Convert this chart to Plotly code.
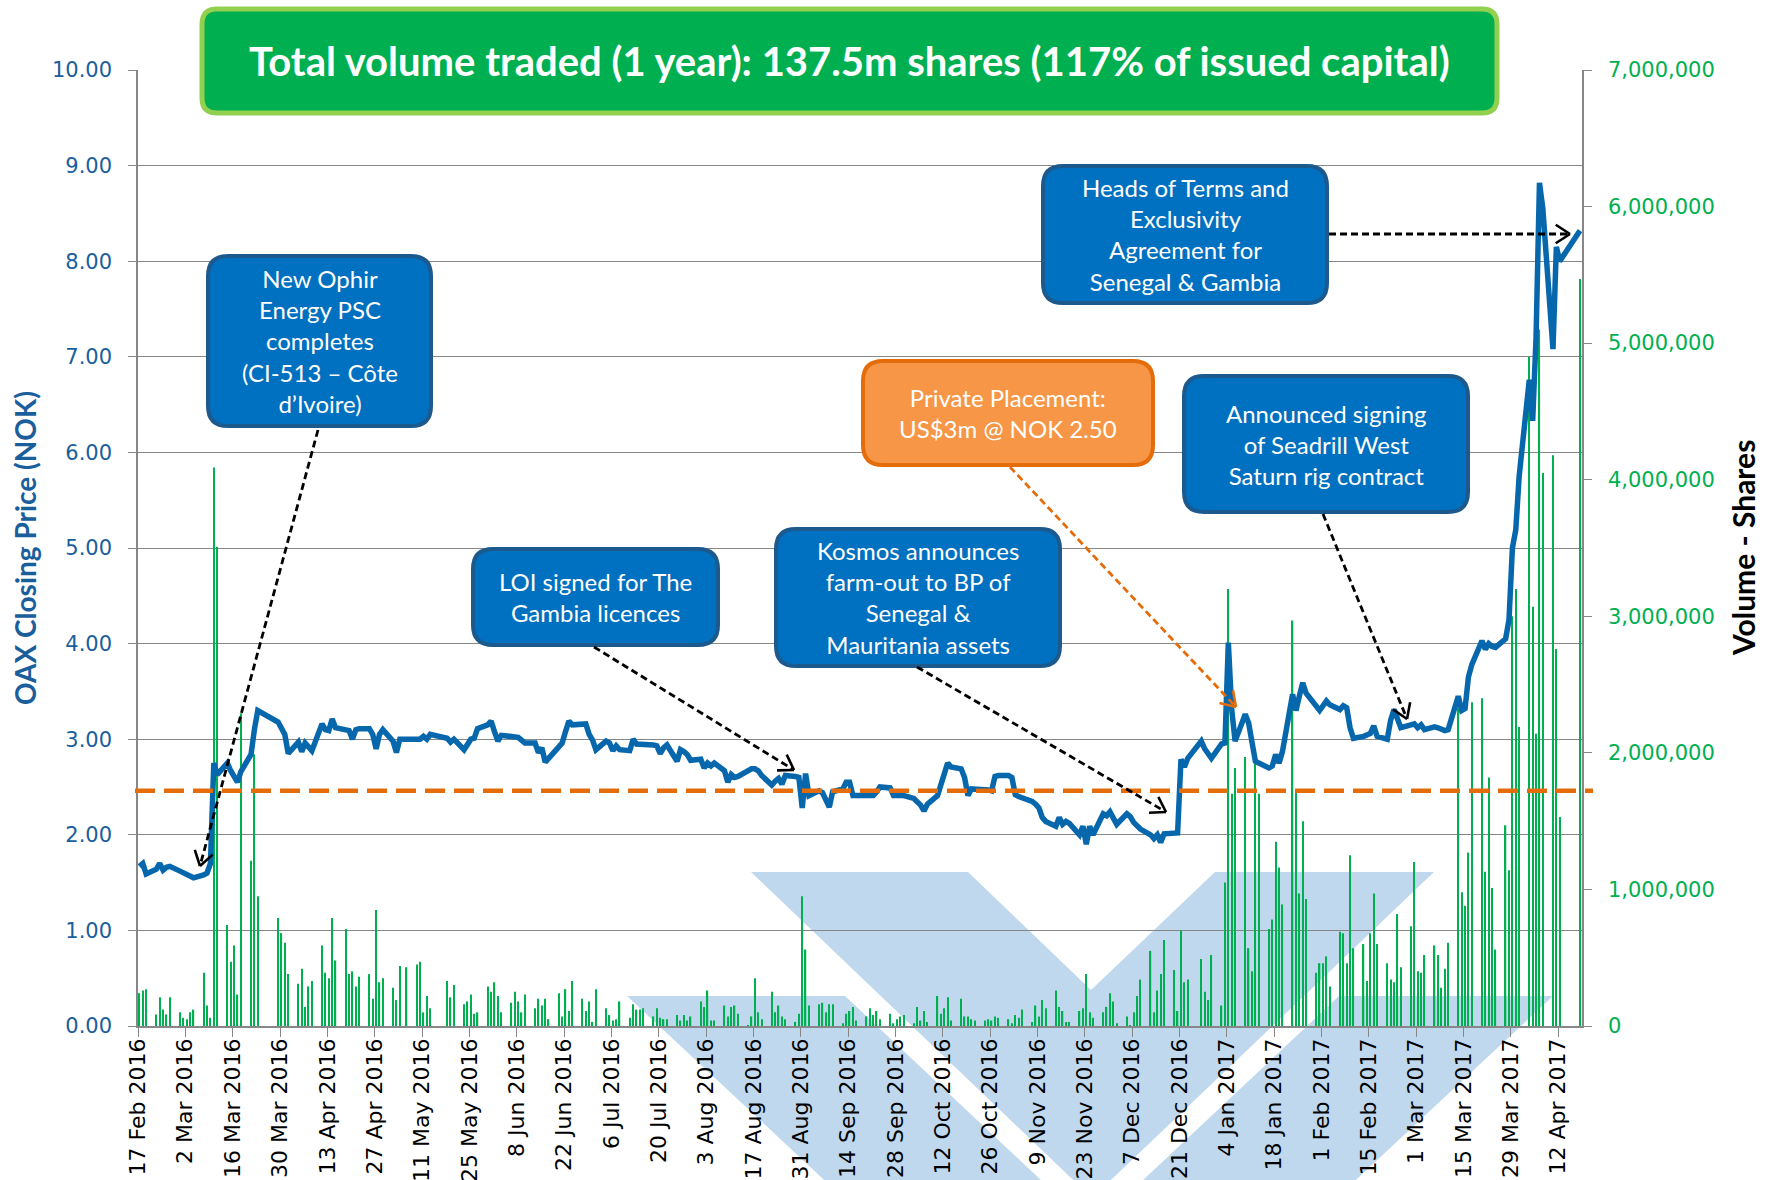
import math
import pandas as pd
import plotly.graph_objects as go

# ---------------- DATA ----------------
# Trading days 17 Feb 2016 - 18 Apr 2017 (Mon-Fri); None/0 = Oslo Børs holiday
dates = pd.bdate_range("2016-02-17", "2017-04-18")

# OAX closing price (NOK), one value per weekday, grouped by week
price_nok = [
    1.67, 1.70, 1.59,
    1.64, 1.70, 1.63, 1.66, 1.67,
    1.62, 1.60, 1.59, 1.56, 1.55,
    1.58, 1.60, 1.70, 2.75, 2.63,
    2.75, 2.67, 2.60, 2.55, 2.66,
    2.84, 3.10, 3.30, None, None,
    None, 3.18, 3.12, 3.05, 2.85,
    2.97, 2.87, 2.96, 2.92, 2.88,
    3.16, 3.10, 3.09, 3.21, 3.12,
    3.09, 3.09, 3.00, 3.10, 3.11,
    3.11, 3.05, 2.90, 3.05, 3.10,
    2.98, 2.86, 3.00, None, 3.00,
    3.00, 3.00, 3.03, 3.00, 3.05,
    None, None, 3.01, 2.97, 3.00,
    2.89, 2.95, 3.00, 3.01, 3.11,
    3.15, 3.19, 3.08, 2.98, 3.04,
    3.03, 3.03, 3.02, 2.99, 2.96,
    2.96, 2.86, 2.91, 2.76, 2.80,
    2.93, 2.96, 3.08, 3.19, 3.15,
    3.15, 3.16, 3.05, 2.99, 2.89,
    2.98, 2.96, 2.88, 2.93, 2.89,
    2.88, 3.00, 2.95, 2.95, 2.95,
    2.94, 2.93, 2.85, 2.91, 2.94,
    2.77, 2.89, 2.87, 2.84, 2.78,
    2.79, 2.70, 2.75, 2.72, 2.75,
    2.67, 2.55, 2.63, 2.60, 2.61,
    2.66, 2.69, 2.69, 2.67, 2.62,
    2.52, 2.56, 2.59, 2.53, 2.62,
    2.61, 2.60, 2.28, 2.64, 2.41,
    2.46, 2.44, 2.36, 2.29, 2.45,
    2.48, 2.55, 2.55, 2.41, 2.41,
    2.40, 2.40, 2.41, 2.45, 2.50,
    2.49, 2.41, 2.41, 2.41, 2.41,
    2.38, 2.35, 2.31, 2.25, 2.32,
    2.41, 2.53, 2.62, 2.75, 2.71,
    2.69, 2.60, 2.41, 2.48, 2.48,
    2.48, 2.47, 2.46, 2.61, 2.62,
    2.62, 2.60, 2.42, 2.40, 2.39,
    2.35, 2.32, 2.28, 2.18, 2.14,
    2.09, 2.18, 2.11, 2.14, 2.12,
    2.00, 2.09, 1.90, 2.09, 2.00,
    2.22, 2.20, 2.24, 2.18, 2.11,
    2.22, 2.19, 2.13, 2.09, 2.06,
    2.00, 1.96, 2.00, 1.92, 2.01,
    2.02, 2.02, 2.79, 2.71, 2.80,
    None, 2.98, 2.90, 2.85, 2.80,
    2.95, 2.96, 4.01, 3.31, 2.98,
    3.26, 3.17, 3.00, 2.77, 2.75,
    2.70, 2.72, 2.84, 2.75, 2.87,
    3.47, 3.30, 3.45, 3.59, 3.48,
    3.33, 3.30, 3.35, 3.40, 3.36,
    3.31, 3.35, 3.33, 3.12, 3.01,
    3.03, 3.05, 3.06, 3.14, 3.03,
    3.00, 3.20, 3.31, 3.20, 3.12,
    3.15, 3.16, 3.12, 3.15, 3.10,
    3.13, 3.12, 3.11, 3.09, 3.10,
    3.45, 3.30, 3.32, 3.65, 3.78,
    4.03, 3.94, 4.00, 3.97, 3.96,
    4.05, 4.25, 5.00, 5.19, 5.75,
    6.76, 6.33, 7.20, 8.82, 8.55,
    7.08, 8.15, 8.00, None, None,
    None, 8.32,
]

# Daily volume (million shares), grouped by week
volume_m = [
    0.24, 0.26, 0.27,
    0.085, 0.21, 0.12, 0.085, 0.21,
    0.10, 0.06, 0.05, 0.10, 0.12,
    0.39, 0.15, 0.06, 4.09, 3.51,
    0.74, 0.47, 0.59, 0.23, 2.29,
    1.21, 1.99, 0.95, 0, 0,
    0, 0.79, 0.68, 0.61, 0.38,
    0.31, 0.42, 0.14, 0.29, 0.33,
    0.59, 0.39, 0.35, 0.79, 0.48,
    0.71, 0.38, 0.40, 0.29, 0.36,
    0.38, 0.20, 0.85, 0.32, 0.35,
    0.28, 0.19, 0.44, 0, 0.43,
    0.45, 0.47, 0.10, 0.22, 0.13,
    0, 0, 0.33, 0.21, 0.30,
    0.16, 0.18, 0.23, 0.09, 0.10,
    0.29, 0.25, 0.32, 0.22, 0.10,
    0.17, 0.25, 0.18, 0.10, 0.23,
    0.13, 0.20, 0.15, 0.20, 0.05,
    0.24, 0.07, 0.27, 0.11, 0.33,
    0.20, 0.11, 0.18, 0.03, 0.27,
    0.13, 0.08, 0.04, 0.05, 0.18,
    0.06, 0.16, 0.12, 0.12, 0.13,
    0.07, 0.13, 0.06, 0.05, 0.05,
    0.08, 0.04, 0.08, 0.04, 0.07,
    0.18, 0.14, 0.26, 0.04, 0.04,
    0.15, 0.07, 0.14, 0.15, 0.09,
    0.005, 0.07, 0.35, 0.10, 0.05,
    0.25, 0.10, 0.15, 0.07, 0.05,
    0.03, 0.09, 0.95, 0.56, 0.15,
    0.16, 0.17, 0.10, 0.16, 0.16,
    0.02, 0.09, 0.11, 0.14, 0.04,
    0.07, 0.13, 0.08, 0.11, 0.05,
    0.09, 0.02, 0.05, 0.07, 0.08,
    0.02, 0.14, 0.04, 0.11, 0.03,
    0.22, 0.09, 0.13, 0.21, 0.04,
    0.20, 0.07, 0.07, 0.05, 0.04,
    0.04, 0.05, 0.04, 0.07, 0.06,
    0.05, 0.02, 0.08, 0.06, 0.12,
    0.03, 0.15, 0.07, 0.19, 0.13,
    0.26, 0.14, 0.11, 0.03, 0.03,
    0.11, 0.13, 0.38, 0.10, 0.06,
    0.10, 0.14, 0.24, 0.18, 0.02,
    0.07, 0.005, 0.10, 0.22, 0.34,
    0.55, 0.10, 0.26, 0.38, 0.63,
    0.41, 0.11, 0.70, 0.32, 0.34,
    0, 0.49, 0.25, 0.19, 0.52,
    0.15, 1.05, 3.20, 1.70, 1.89,
    1.97, 0.57, 0.40, 1.92, 1.70,
    0.71, 0.78, 1.35, 1.16, 0.89,
    2.97, 1.71, 0.97, 1.50, 0.93,
    0.39, 0.46, 0.46, 0.51, 0.29,
    0.69, 0.68, 0.46, 1.25, 0.57,
    0.60, 0.33, 0.68, 0.97, 0.60,
    0.46, 0.34, 0.32, 0.82, 0.43,
    0.73, 1.20, 0.40, 0.39, 0.52,
    0.59, 0.52, 0.28, 0.42, 0.61,
    2.33, 0.98, 0.88, 1.27, 2.37,
    2.40, 1.13, 1.82, 1.01, 0.56,
    1.47, 1.14, 3.00, 3.20, 2.19,
    4.90, 3.07, 2.14, 5.10, 4.05,
    4.18, 2.76, 1.53, 0, 0,
    0, 5.47,
]

tick_dates = pd.date_range("2016-02-17", "2017-04-12", freq="14D")
tick_text = [f"{d.day} {d.strftime('%b %Y')}" for d in tick_dates]
price_ticks = list(range(0, 11))
price_tick_text = [f"{v:.2f}" for v in price_ticks]
volume_ticks = [i * 1_000_000 for i in range(8)]
volume_tick_text = [f"{v:,}" for v in volume_ticks]
placement_price = 2.46

title_text = "Total volume traded (1 year): 137.5m shares (117% of issued capital)"
callout_texts = [
    "New Ophir<br>Energy PSC<br>completes<br>(CI-513 \u2013 C\u00f4te<br>d\u2019Ivoire)",
    "LOI signed for The<br>Gambia licences",
    "Kosmos announces<br>farm-out to BP of<br>Senegal &amp;<br>Mauritania assets",
    "Private Placement:<br>US$3m @ NOK 2.50",
    "Announced signing<br>of Seadrill West<br>Saturn rig contract",
    "Heads of Terms and<br>Exclusivity<br>Agreement for<br>Senegal &amp; Gambia",
]

# ---------------- LAYOUT GEOMETRY (pixels) ----------------
FIG_W, FIG_H = 1765, 1180
ML, MR, MT, MB = 138, 183, 70, 154
PW, PH = FIG_W - ML - MR, FIG_H - MT - MB


def px(x):
    return (x - ML) / PW


def py(y):
    return (FIG_H - MB - y) / PH


def rrect(x0, y0, x1, y1, r):
    def P(x, y):
        return f"{px(x):.5f},{py(y):.5f}"
    return (f"M {P(x0 + r, y0)} L {P(x1 - r, y0)} Q {P(x1, y0)} {P(x1, y0 + r)} "
            f"L {P(x1, y1 - r)} Q {P(x1, y1)} {P(x1 - r, y1)} L {P(x0 + r, y1)} "
            f"Q {P(x0, y1)} {P(x0, y1 - r)} L {P(x0, y0 + r)} Q {P(x0, y0)} {P(x0 + r, y0)} Z")


def poly(points):
    return "M " + " L ".join(f"{px(x):.5f},{py(y):.5f}" for x, y in points) + " Z"


shapes = []

# watermark logo (two nested chevrons)
logo_fill = "rgba(120,172,218,0.47)"
shapes.append(dict(type="path", xref="paper", yref="paper", layer="below",
                   path=poly([(751, 872), (968, 872), (1091, 990), (1215, 872),
                              (1434, 872), (1092, 1198)]),
                   fillcolor=logo_fill, line=dict(width=0)))
shapes.append(dict(type="path", xref="paper", yref="paper", layer="below",
                   path=poly([(627, 996), (845, 996), (1092, 1228), (1339, 996),
                              (1553, 996), (1090, 1428)]),
                   fillcolor=logo_fill, line=dict(width=0)))

# placement price reference line
shapes.append(dict(type="line", xref="paper", yref="y2", x0=px(135), x1=px(1593),
                   y0=placement_price, y1=placement_price, layer="above",
                   line=dict(color="#E46C0A", width=4.5, dash="20px,9px")))

# title box
shapes.append(dict(type="path", xref="paper", yref="paper", layer="above",
                   path=rrect(202, 9, 1497, 113, 15),
                   fillcolor="#00B050", line=dict(color="#92D050", width=5)))

BLUE_FILL, BLUE_EDGE = "#0070C0", "#1C5A8E"
ORANGE_FILL, ORANGE_EDGE = "#F79646", "#E46C0A"
boxes = [
    ((208, 256, 431, 426), BLUE_FILL, BLUE_EDGE),
    ((473, 549, 718, 645), BLUE_FILL, BLUE_EDGE),
    ((776, 529, 1060, 666), BLUE_FILL, BLUE_EDGE),
    ((863, 361, 1153, 465), ORANGE_FILL, ORANGE_EDGE),
    ((1184, 376, 1468, 512), BLUE_FILL, BLUE_EDGE),
    ((1043, 166, 1327, 303), BLUE_FILL, BLUE_EDGE),
]
for (x0, y0, x1, y1), fc, lc in boxes:
    shapes.append(dict(type="path", xref="paper", yref="paper", layer="above",
                       path=rrect(x0, y0, x1, y1, 20),
                       fillcolor=fc, line=dict(color=lc, width=4)))


def arrow(x0, y0, x1, y1, color):
    shapes.append(dict(type="line", xref="paper", yref="paper", layer="above",
                       x0=px(x0), y0=py(y0), x1=px(x1), y1=py(y1),
                       line=dict(color=color, width=2.8, dash="7px,4px")))
    L = math.hypot(x1 - x0, y1 - y0)
    ux, uy = (x1 - x0) / L, (y1 - y0) / L
    for s in (1, -1):
        a = math.radians(33) * s
        rx = ux * math.cos(a) - uy * math.sin(a)
        ry = ux * math.sin(a) + uy * math.cos(a)
        hx, hy = x1 - 17 * rx, y1 - 17 * ry
        shapes.append(dict(type="line", xref="paper", yref="paper", layer="above",
                           x0=px(hx), y0=py(hy), x1=px(x1), y1=py(y1),
                           line=dict(color=color, width=2.6)))


arrow(318, 430, 200, 866, "black")
arrow(594, 647, 794, 770, "black")
arrow(917, 667, 1166, 812, "black")
arrow(1010, 467, 1236, 707, "#E46C0A")
arrow(1323, 514, 1407, 719, "black")
arrow(1329, 234, 1570, 234, "black")

annotations = []
annotations.append(dict(xref="paper", yref="paper", x=px(849.5), y=py(61),
                        text=f"<b>{title_text}</b>", showarrow=False,
                        xanchor="center", yanchor="middle",
                        font=dict(family="Lato", size=40, color="white")))
for ((x0, y0, x1, y1), fc, lc), txt in zip(boxes, callout_texts):
    annotations.append(dict(xref="paper", yref="paper", x=px((x0 + x1) / 2),
                            y=py((y0 + y1) / 2), text=txt, showarrow=False,
                            xanchor="center", yanchor="middle", align="center",
                            font=dict(family="Lato", size=24, color="white")))
annotations.append(dict(xref="paper", yref="paper", x=px(25), y=py(548),
                        text="<b>OAX Closing Price (NOK)</b>", textangle=-90,
                        showarrow=False, xanchor="center", yanchor="middle",
                        font=dict(family="Lato", size=28, color="#1B5E9C")))
annotations.append(dict(xref="paper", yref="paper", x=px(1743), y=py(548),
                        text="<b>Volume - Shares</b>", textangle=-90,
                        showarrow=False, xanchor="center", yanchor="middle",
                        font=dict(family="Lato", size=30, color="black")))

# ---------------- FIGURE ----------------
xpos = dates + pd.Timedelta(hours=10)
fig = go.Figure()
fig.add_trace(go.Bar(x=xpos, y=[v * 1e6 for v in volume_m], yaxis="y",
                     marker=dict(color="#00B050", line=dict(width=0)),
                     width=0.38 * 86400000, name="Volume"))
fig.add_trace(go.Scatter(x=xpos, y=price_nok, yaxis="y2", mode="lines",
                         connectgaps=True, name="Price",
                         line=dict(color="#0767AC", width=5.5)))

AX = "#878787"
fig.update_layout(
    width=FIG_W, height=FIG_H,
    margin=dict(l=ML, r=MR, t=MT, b=MB, pad=0, autoexpand=False),
    paper_bgcolor="white", plot_bgcolor="rgba(0,0,0,0)",
    showlegend=False,
    xaxis=dict(type="date", range=["2016-02-17", "2017-04-19"],
               tickvals=list(tick_dates), ticktext=tick_text, tickangle=-90,
               ticks="outside", ticklen=9, tickwidth=1.4, tickcolor=AX,
               showline=True, linecolor=AX, linewidth=1.5, showgrid=False,
               zeroline=False, ticklabelstandoff=-7,
               tickfont=dict(family="DejaVu Sans", size=22, color="black")),
    yaxis=dict(side="right", range=[0, 7_000_000], tickvals=volume_ticks,
               ticktext=volume_tick_text, ticks="outside", ticklen=8,
               tickwidth=1.4, tickcolor=AX, showline=True, linecolor=AX,
               linewidth=1.5, showgrid=False, zeroline=False,
               ticklabelstandoff=12,
               tickfont=dict(family="DejaVu Sans", size=21, color="#00B050")),
    yaxis2=dict(side="left", overlaying="y", anchor="x", range=[0, 10],
                tickvals=price_ticks, ticktext=price_tick_text, ticks="outside",
                ticklen=8, tickwidth=1.4, tickcolor=AX, showline=True,
                linecolor=AX, linewidth=1.5, showgrid=True, gridcolor=AX,
                gridwidth=1.4, zeroline=False, ticklabelstandoff=12,
                tickfont=dict(family="DejaVu Sans", size=21, color="#1B5E9C")),
    shapes=shapes,
    annotations=annotations,
)

fig.write_html("out.html", config={"displayModeBar": False},
               post_script="document.body.style.margin='0px';")
